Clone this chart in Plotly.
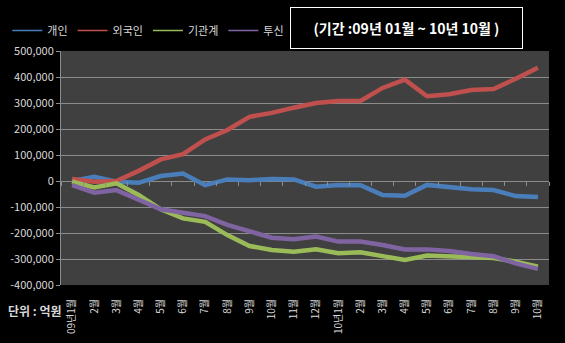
import plotly.graph_objects as go

months = ["09년1월", "2월", "3월", "4월", "5월", "6월", "7월", "8월", "9월", "10월", "11월", "12월",
          "10년1월", "2월", "3월", "4월", "5월", "6월", "7월", "8월", "9월", "10월"]

individual = [0, 16000, -3000, -7000, 19000, 29000, -16000, 6000, 3000, 8000, 6000, -22000,
              -15000, -16000, -54000, -57000, -15000, -25000, -32000, -35000, -58000, -62000]
foreign = [8000, -3000, 0, 39000, 83000, 103000, 160000, 196000, 247000, 262000, 282000, 300000,
           308000, 308000, 358000, 390000, 326000, 334000, 350000, 354000, 393000, 436000]
institution = [-3000, -25000, -9000, -54000, -109000, -144000, -157000, -208000, -250000, -265000,
               -272000, -263000, -278000, -274000, -289000, -304000, -287000, -289000, -294000,
               -296000, -310000, -330000]
trust = [-16000, -45000, -35000, -71000, -109000, -122000, -135000, -169000, -195000, -218000,
         -224000, -214000, -233000, -233000, -246000, -263000, -263000, -269000, -281000, -289000,
         -317000, -338000]

series_names = ["개인", "외국인", "기관계", "투신"]
series_values = [individual, foreign, institution, trust]
series_colors = ["#4a7ebb", "#c0504d", "#9bbb59", "#8064a2"]

y_ticks = [500000, 400000, 300000, 200000, 100000, 0, -100000, -200000, -300000, -400000]
y_ticktext = ["500,000", "400,000", "300,000", "200,000", "100,000", "0",
              "-100,000", "-200,000", "-300,000", "-400,000"]

FONT = "Noto Sans CJK KR"
x_idx = list(range(len(months)))

fig = go.Figure()
for name, vals, col in zip(series_names, series_values, series_colors):
    fig.add_trace(go.Scatter(x=x_idx, y=vals, mode="lines", name=name,
                             line=dict(color=col, width=4.5), showlegend=False,
                             hoverinfo="skip"))
# thin legend entries
for name, col in zip(series_names, series_colors):
    fig.add_trace(go.Scatter(x=[None], y=[None], mode="lines", name=name,
                             line=dict(color=col, width=1.5), showlegend=True))
# axis with ticks at zero line
fig.add_trace(go.Scatter(x=x_idx, y=[None] * len(x_idx), xaxis="x2", yaxis="y",
                         showlegend=False, hoverinfo="skip"))

boundaries = [i - 0.5 for i in range(len(months) + 1)]

fig.update_layout(
    width=565, height=343,
    margin=dict(l=61, r=16, t=51, b=58, autoexpand=False),
    paper_bgcolor="black",
    plot_bgcolor="#404040",
    font=dict(family=FONT, color="#d9d9d9", size=11),
    xaxis=dict(range=[-0.5, len(months) - 0.5], tickmode="array", tickvals=x_idx,
               ticktext=months, tickangle=-90, showgrid=False, zeroline=False,
               ticks="", tickfont=dict(size=10, color="#d9d9d9"), ticklabelstandoff=11,
               showline=False),
    xaxis2=dict(range=[-0.5, len(months) - 0.5], overlaying="x", anchor="free",
                position=4 / 9, tickmode="array", tickvals=boundaries,
                showticklabels=False, ticks="outside", ticklen=4, tickcolor="#8c8c8c",
                showline=False, showgrid=False, zeroline=False),
    yaxis=dict(range=[-400000, 500000], tickmode="array", tickvals=y_ticks,
               ticktext=y_ticktext, showgrid=True, gridcolor="#8c8c8c", gridwidth=1,
               zeroline=False, ticks="outside", ticklen=4, tickcolor="#8c8c8c",
               showline=True, linecolor="#8c8c8c", linewidth=1,
               tickfont=dict(size=11, color="#d9d9d9")),
    legend=dict(orientation="h", x=-0.11, xanchor="left", y=1.088, yanchor="middle",
                font=dict(size=11, color="#d9d9d9"), bgcolor="rgba(0,0,0,0)",
                traceorder="normal"),
    showlegend=True,
    annotations=[
        dict(text="<b>(기간 :09년 01월 ~ 10년 10월 )</b>", xref="paper", yref="paper",
             x=0.708, y=1.099, xanchor="center", yanchor="middle", showarrow=False,
             font=dict(size=14, color="white", family=FONT), bordercolor="white",
             borderwidth=1, borderpad=10, bgcolor="black", width=211),
        dict(text="<b>단위 : 억원</b>", xref="paper", yref="paper", x=-0.1135, y=-0.111,
             xanchor="left", yanchor="middle", showarrow=False,
             font=dict(size=12, color="#d9d9d9", family=FONT)),
    ],
)

fig.write_html("out.html")
